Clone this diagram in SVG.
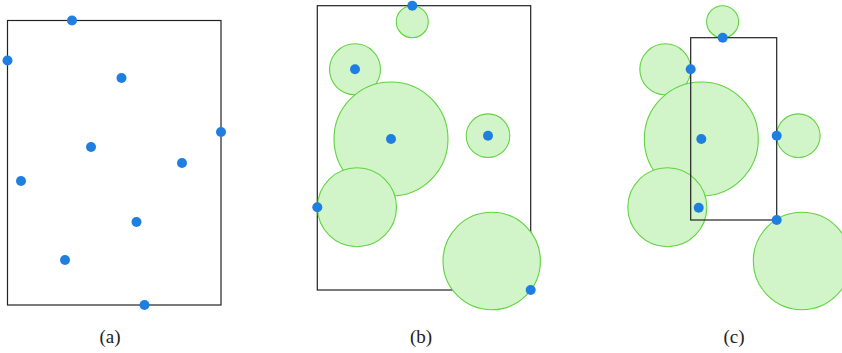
<svg xmlns="http://www.w3.org/2000/svg" width="842" height="353" viewBox="0 0 842 353">
<style>
.box{fill:none;stroke:#222;stroke-width:1.2}
.disk{fill:#d2f4c9;stroke:#5fd33f;stroke-width:1.1}
.pt{fill:#1f7fe0}
.lbl{font-family:"Liberation Serif","DejaVu Serif",serif;font-size:19px;fill:#222;text-anchor:middle}
</style>
<g id="panel-a">
<rect class="box" x="7.5" y="20.5" width="213.5" height="284.5"/>
<circle class="pt" cx="72" cy="20.5" r="5"/>
<circle class="pt" cx="7.5" cy="60.5" r="5"/>
<circle class="pt" cx="121.5" cy="78" r="5"/>
<circle class="pt" cx="221" cy="132" r="5"/>
<circle class="pt" cx="91" cy="147" r="5"/>
<circle class="pt" cx="182" cy="163" r="5"/>
<circle class="pt" cx="21" cy="181" r="5"/>
<circle class="pt" cx="136.5" cy="222" r="5"/>
<circle class="pt" cx="65" cy="260" r="5"/>
<circle class="pt" cx="144.5" cy="305" r="5"/>
<text class="lbl" x="110" y="343">(a)</text>
</g>
<g id="panel-b">
<rect class="box" x="317.3" y="5.7" width="213.4" height="284.3"/>
<circle class="disk" cx="412.3" cy="21.7" r="16"/>
<circle class="disk" cx="355" cy="69.3" r="25.5"/>
<circle class="disk" cx="391" cy="139" r="57"/>
<circle class="disk" cx="488" cy="135.7" r="21.8"/>
<circle class="disk" cx="357" cy="207.3" r="39.5"/>
<circle class="disk" cx="491.7" cy="261" r="48.7"/>
<circle class="pt" cx="412.3" cy="5.7" r="5"/>
<circle class="pt" cx="355" cy="69.3" r="5"/>
<circle class="pt" cx="391" cy="139" r="5"/>
<circle class="pt" cx="488" cy="135.7" r="5"/>
<circle class="pt" cx="317.3" cy="207.3" r="5"/>
<circle class="pt" cx="530.7" cy="290" r="5"/>
<text class="lbl" x="421" y="343">(b)</text>
</g>
<g id="panel-c">
<circle class="disk" cx="722.6" cy="21.7" r="16"/>
<circle class="disk" cx="665.3" cy="69.3" r="25.5"/>
<circle class="disk" cx="701.3" cy="139" r="57"/>
<circle class="disk" cx="798.3" cy="135.7" r="21.8"/>
<circle class="disk" cx="667.3" cy="207.3" r="39.5"/>
<circle class="disk" cx="802" cy="261" r="48.7"/>
<rect class="box" x="690.7" y="37.7" width="86" height="182.3"/>
<circle class="pt" cx="722.7" cy="37.7" r="5"/>
<circle class="pt" cx="690.7" cy="69.3" r="5"/>
<circle class="pt" cx="701.3" cy="139" r="5"/>
<circle class="pt" cx="776.7" cy="135.7" r="5"/>
<circle class="pt" cx="698.7" cy="207.7" r="5"/>
<circle class="pt" cx="776.7" cy="220" r="5"/>
<text class="lbl" x="734" y="343">(c)</text>
</g>
</svg>
